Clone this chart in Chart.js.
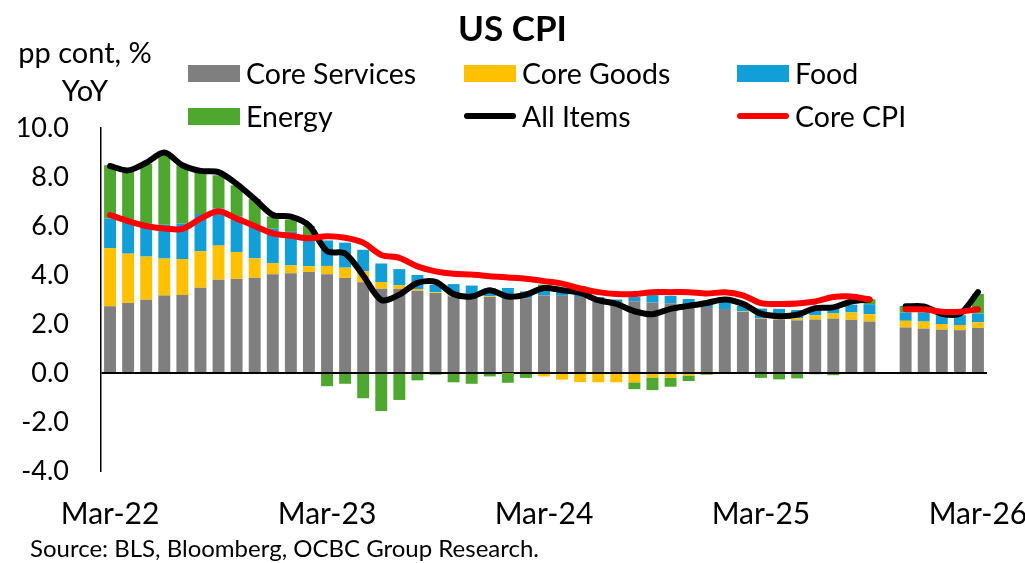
<!DOCTYPE html>
<html lang="en">
<head>
    <meta charset="UTF-8">
    <title>US CPI</title>
    <script src="https://cdn.jsdelivr.net/npm/chart.js"></script>
    <style>
        body {
            margin: 0;
            overflow: hidden;
            background-color: #ffffff;
            font-family: Lato, "Open Sans", sans-serif;
            color: #000000;
        }

        #wrap {
            position: relative;
            width: 1100px;
            height: 563px;
        }

        .txt {
            position: absolute;
            white-space: nowrap;
            line-height: 1;
        }

        .title {
            left: 0;
            width: 1025px;
            top: 10px;
            text-align: center;
            font-weight: bold;
            font-size: 35px;
        }

        .cap {
            width: 170px;
            left: 0;
            text-align: center;
            font-size: 29px;
        }

        .legend-item {
            position: absolute;
            display: flex;
            align-items: center;
            font-size: 28.5px;
            white-space: nowrap;
            height: 30px;
        }

        .legend-swatch {
            width: 52px;
            margin-right: 6px;
        }

        .source {
            left: 30px;
            top: 536px;
            font-size: 24px;
        }
    </style>
</head>
<body>
    <div id="wrap">
        <canvas id="cpi-chart"></canvas>
        <div class="txt title">US CPI</div>
        <div class="txt cap" style="top: 37px;">pp cont, %</div>
        <div class="txt cap" style="top: 75px;">YoY</div>
        <div id="legend"></div>
        <div class="txt source">Source: BLS, Bloomberg, OCBC Group Research.</div>
    </div>

    <script>
        const months = [
            'Mar-22', 'Apr-22', 'May-22', 'Jun-22', 'Jul-22', 'Aug-22', 'Sep-22', 'Oct-22', 'Nov-22', 'Dec-22',
            'Jan-23', 'Feb-23', 'Mar-23', 'Apr-23', 'May-23', 'Jun-23', 'Jul-23', 'Aug-23', 'Sep-23', 'Oct-23',
            'Nov-23', 'Dec-23', 'Jan-24', 'Feb-24', 'Mar-24', 'Apr-24', 'May-24', 'Jun-24', 'Jul-24', 'Aug-24',
            'Sep-24', 'Oct-24', 'Nov-24', 'Dec-24', 'Jan-25', 'Feb-25', 'Mar-25', 'Apr-25', 'May-25', 'Jun-25',
            'Jul-25', 'Aug-25', 'Sep-25', 'Oct-25', 'Nov-25', 'Dec-25', 'Jan-26', 'Feb-26', 'Mar-26'
        ];

        // contributions in pp, Oct-25 has no data
        const coreServices = [2.72, 2.86, 2.99, 3.16, 3.18, 3.48, 3.81, 3.84, 3.89, 4.03,
            4.07, 4.12, 4.03, 3.88, 3.70, 3.44, 3.43, 3.36, 3.27, 3.13,
            3.06, 3.10, 3.02, 3.05, 3.17, 3.15, 3.10, 2.93, 2.88, 2.93,
            2.87, 2.85, 2.72, 2.69, 2.61, 2.49, 2.22, 2.18, 2.15, 2.18,
            2.22, 2.17, 2.10, null, 1.86, 1.81, 1.77, 1.75, 1.84];
        const coreGoods = [2.38, 2.01, 1.76, 1.51, 1.47, 1.49, 1.39, 1.10, 0.79, 0.45,
            0.32, 0.24, 0.34, 0.42, 0.45, 0.27, 0.15, 0.07, 0.03, 0.03,
            0.01, 0.03, -0.02, -0.04, -0.14, -0.27, -0.37, -0.38, -0.38, -0.38,
            -0.18, -0.20, -0.10, -0.05, 0.00, 0.02, 0.02, 0.03, 0.08, 0.17,
            0.21, 0.30, 0.30, null, 0.27, 0.29, 0.23, 0.21, 0.23];
        const food = [1.20, 1.29, 1.35, 1.38, 1.45, 1.52, 1.51, 1.45, 1.35, 1.41,
            1.37, 1.27, 1.04, 1.02, 0.88, 0.76, 0.66, 0.57, 0.30, 0.47,
            0.50, 0.34, 0.45, 0.28, 0.34, 0.20, 0.25, 0.17, 0.12, 0.17,
            0.31, 0.30, 0.30, 0.12, 0.29, 0.23, 0.39, 0.41, 0.34, 0.22,
            0.23, 0.32, 0.41, null, 0.34, 0.37, 0.36, 0.39, 0.36];
        const energy = [2.18, 2.11, 2.44, 2.90, 2.38, 1.71, 1.36, 1.27, 1.07, 0.50,
            0.50, 0.37, -0.54, -0.44, -1.03, -1.55, -1.10, -0.30, -0.07, -0.38,
            -0.44, -0.14, -0.38, -0.16, 0.10, 0.05, 0.20, 0.00, 0.00, -0.28,
            -0.52, -0.36, -0.23, -0.03, 0.00, 0.00, -0.20, -0.26, -0.22, -0.05,
            -0.09, 0.00, 0.20, null, 0.27, 0.02, 0.00, 0.03, 0.80];

        // headline and core YoY, %
        const allItems = [8.45, 8.27, 8.58, 9.00, 8.48, 8.25, 8.20, 7.72, 7.10, 6.45,
            6.38, 6.02, 4.97, 4.88, 3.98, 2.98, 3.20, 3.68, 3.72, 3.22,
            3.12, 3.38, 3.12, 3.20, 3.47, 3.38, 3.27, 2.97, 2.82, 2.52,
            2.40, 2.62, 2.74, 2.86, 3.00, 2.82, 2.42, 2.32, 2.38, 2.65,
            2.68, 2.92, 3.00, null, 2.72, 2.72, 2.42, 2.42, 3.30];
        const coreCpi = [6.45, 6.20, 6.00, 5.90, 5.88, 6.30, 6.60, 6.30, 6.00, 5.70,
            5.60, 5.50, 5.58, 5.52, 5.32, 4.82, 4.70, 4.35, 4.15, 4.05,
            4.02, 3.95, 3.90, 3.85, 3.75, 3.65, 3.45, 3.30, 3.22, 3.22,
            3.30, 3.30, 3.30, 3.24, 3.30, 3.17, 2.85, 2.82, 2.84, 2.92,
            3.10, 3.12, 3.00, null, 2.60, 2.60, 2.50, 2.50, 2.60];

        const yTicks = [-4, -2, 0, 2, 4, 6, 8, 10];

        const FONT = 'Lato';

        function barSet(label, data, color) {
            return {
                type: 'bar',
                label: label,
                data: data,
                backgroundColor: color,
                borderWidth: 0,
                stack: 'contrib',
                barPercentage: 0.66,
                categoryPercentage: 1.0,
                order: 3
            };
        }

        function lineSet(label, data, color, order) {
            return {
                type: 'line',
                label: label,
                data: data,
                borderColor: color,
                backgroundColor: color,
                borderWidth: 6,
                borderCapStyle: 'round',
                borderJoinStyle: 'round',
                pointRadius: 0,
                tension: 0.3,
                spanGaps: false,
                stack: label,
                order: order
            };
        }

        const ctx = document.getElementById('cpi-chart').getContext('2d');
        const cpiChart = new Chart(ctx, {
            data: {
                labels: months,
                datasets: [
                    barSet('Core Services', coreServices, '#7f7f7f'),
                    barSet('Core Goods', coreGoods, '#ffc000'),
                    barSet('Food', food, '#129fd8'),
                    barSet('Energy', energy, '#4ea72e'),
                    lineSet('All Items', allItems, '#000000', 2),
                    lineSet('Core CPI', coreCpi, '#ff0000', 1)
                ]
            },
            options: {
                responsive: true,
                maintainAspectRatio: false,
                animation: false,
                layout: {
                    padding: { left: 0, right: 113, top: 128, bottom: 22 }
                },
                plugins: {
                    legend: { display: false },
                    tooltip: { enabled: false }
                },
                scales: {
                    x: {
                        stacked: true,
                        grid: { display: false, drawTicks: false },
                        border: { display: false },
                        afterFit: (scale) => { scale.height = 70; },
                        ticks: {
                            autoSkip: false,
                            maxRotation: 0,
                            padding: 25,
                            color: '#000000',
                            font: { family: FONT, size: 30 },
                            callback: function (value, index) {
                                return index % 12 === 0 ? months[index] : '';
                            }
                        }
                    },
                    y: {
                        stacked: true,
                        min: -4,
                        max: 10,
                        afterFit: (scale) => { scale.width = 101; },
                        afterBuildTicks: (scale) => {
                            scale.ticks = yTicks.map(v => ({ value: v }));
                        },
                        grid: {
                            drawTicks: false,
                            color: (c) => c.tick && c.tick.value === 0 ? '#000000' : 'rgba(0,0,0,0)',
                            lineWidth: 2
                        },
                        border: { display: true, color: '#000000', width: 1.5 },
                        ticks: {
                            padding: 32,
                            color: '#000000',
                            font: { family: FONT, size: 27 },
                            callback: (v) => Number(v).toFixed(1)
                        }
                    }
                }
            }
        });

        // legend laid out in a 3 x 2 grid like the original
        const legendCols = [188, 464, 737];
        const legendRows = [58, 101];
        const legendEl = document.getElementById('legend');
        cpiChart.data.datasets.forEach((ds, i) => {
            const item = document.createElement('div');
            item.className = 'legend-item';
            item.style.left = legendCols[i % 3] + 'px';
            item.style.top = legendRows[Math.floor(i / 3)] + 'px';
            const sw = document.createElement('span');
            sw.className = 'legend-swatch';
            if (ds.type === 'bar') {
                sw.style.height = '17px';
                sw.style.background = ds.backgroundColor;
            } else {
                sw.style.height = '6px';
                sw.style.borderRadius = '3px';
                sw.style.background = ds.borderColor;
            }
            const label = document.createElement('span');
            label.textContent = ds.label;
            item.appendChild(sw);
            item.appendChild(label);
            legendEl.appendChild(item);
        });
    </script>
</body>
</html>
